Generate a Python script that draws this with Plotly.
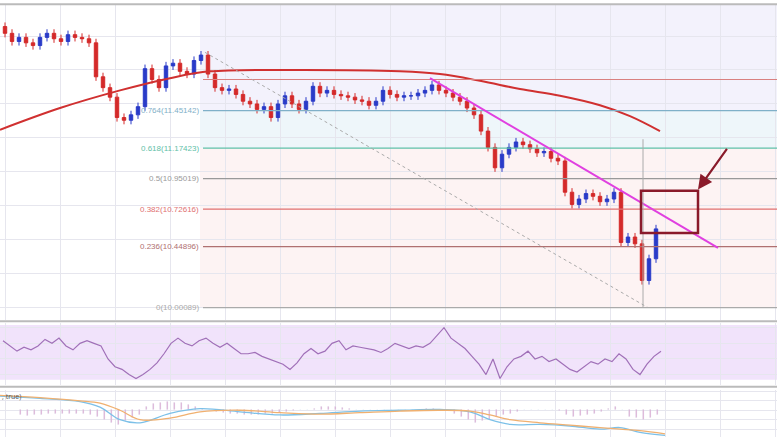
import plotly.graph_objects as go

# candle x positions (pixel-like axis units) and closes
candle_x = [5 + 7*i for i in range(94)]
closes = [12.02,11.96,11.99,11.95,11.93,11.99,12.02,11.98,11.96,12.01,11.99,11.98,11.95,11.70,11.62,11.55,11.40,11.38,11.42,11.48,
          11.76,11.68,11.62,11.78,11.80,11.74,11.72,11.82,11.86,11.72,11.62,11.60,11.61,11.57,11.52,11.50,11.46,11.48,11.40,11.50,
          11.56,11.50,11.46,11.52,11.63,11.58,11.60,11.57,11.56,11.55,11.53,11.52,11.49,11.52,11.60,11.57,11.55,11.56,11.56,11.58,
          11.60,11.64,11.60,11.58,11.55,11.52,11.47,11.42,11.30,11.18,11.03,11.13,11.18,11.22,11.20,11.17,11.14,11.15,11.10,11.08,
          10.85,10.76,10.80,10.84,10.82,10.78,10.80,10.85,10.48,10.52,10.47,10.20,10.36,10.58]
opens = [12.07] + closes[:-1]
highs = [max(o, c) + 0.03 for o, c in zip(opens, closes)]
lows = [min(o, c) - 0.03 for o, c in zip(opens, closes)]

ma_x = [0, 60, 120, 170, 210, 300, 400, 440, 480, 520, 560, 600, 630, 660]
ma_y = [11.31, 11.47, 11.60, 11.69, 11.74, 11.75, 11.74, 11.72, 11.67, 11.61, 11.56, 11.49, 11.41, 11.30]

fib_ratio = ["0.886", "0.764", "0.618", "0.5", "0.382", "0.236", "0"]
fib_price = [11.68, 11.45142, 11.17423, 10.95019, 10.72616, 10.44896, 10.00089]
fib_color = ["#d98080", "#7fb0c8", "#5fc0a8", "#999999", "#e07070", "#b07070", "#aaaaaa"]

rsi = [62,58,54,57,55,58,63,60,64,58,55,60,62,60,58,48,42,40,36,33,36,40,45,52,60,64,60,58,62,64,60,57,60,56,52,52,53,50,48,46,
       44,40,45,52,56,52,54,60,62,55,58,57,56,55,53,56,60,58,56,58,57,60,66,72,64,60,56,50,44,36,48,33,42,48,50,54,48,50,46,48,
       44,40,38,42,46,44,48,46,52,48,40,36,44,50,54]
rsi_x = [3 + 7*i for i in range(len(rsi))]

macd_x = [0, 40, 80, 100, 120, 140, 170, 200, 240, 280, 320, 360, 400, 440, 470, 490, 510, 540, 570, 600, 620, 640, 665]
macd_a = [0.9, 0.75, 0.55, 0.2, -0.6, -0.8, -0.2, 0.1, -0.1, -0.3, -0.2, -0.05, 0.0, 0.05, -0.1, -0.6, -0.9, -0.9, -1.0, -1.2, -1.1, -1.4, -1.6]
macd_b = [0.95, 0.8, 0.6, 0.45, 0.0, -0.6, -0.5, -0.1, 0.0, -0.15, -0.25, -0.15, -0.05, 0.0, -0.05, -0.3, -0.6, -0.8, -0.95, -1.1, -1.2, -1.3, -1.5]
hist_x = [20 + 7*i for i in range(92)]
hist = [-0.3,-0.35,-0.3,-0.3,-0.25,-0.25,-0.2,-0.2,-0.2,-0.25,-0.3,-0.4,-0.6,-0.8,-0.9,-0.7,-0.5,-0.3,0.2,0.4,0.5,0.55,0.5,0.45,0.35,0.2,0.1,0.05,
        -0.1,-0.15,-0.2,-0.25,-0.3,-0.3,-0.3,-0.25,-0.2,-0.15,-0.1,-0.05,0.0,0.05,0.1,0.2,0.25,0.2,0.15,0.1,0.05,0.05,0.05,0.05,0.05,0.05,
        0.05,0.05,0.05,0.05,0.1,0.1,0.05,0.0,-0.2,-0.4,-0.6,-0.8,-0.7,-0.6,-0.4,-0.3,-0.2,-0.1,0.0,0.0,0.0,0.0,0.0,-0.05,
        -0.3,-0.4,-0.35,-0.3,-0.2,-0.1,0.1,0.2,0.05,-0.4,-0.5,-0.6,-0.5,-0.3]

fig = go.Figure()
fig.add_shape(type="rect", xref="x", yref="y", x0=200, x1=777, y0=11.45142, y1=12.3, fillcolor="#f3f2fc", line_width=0, layer="below")
fig.add_shape(type="rect", xref="x", yref="y", x0=200, x1=777, y0=11.17423, y1=11.45142, fillcolor="#eef6fa", line_width=0, layer="below")
fig.add_shape(type="rect", xref="x", yref="y", x0=200, x1=777, y0=10.0, y1=11.17423, fillcolor="#fdf3f3", line_width=0, layer="below")

for r, p, c in zip(fib_ratio, fib_price, fib_color):
    fig.add_shape(type="line", xref="x", yref="y", x0=203, x1=777, y0=p, y1=p, line=dict(color=c, width=1.2))
    if r != "0.886":
        fig.add_annotation(x=201, y=p, xref="x", yref="y", text=f"{r}({p:.5f})", showarrow=False,
                           xanchor="right", font=dict(size=8, color=c, family="Arial"))

fig.add_trace(go.Candlestick(x=candle_x, open=opens, high=highs, low=lows, close=closes,
                             increasing=dict(line=dict(color="#2a3bc8", width=1), fillcolor="#2a3bc8"),
                             decreasing=dict(line=dict(color="#d42a2a", width=1), fillcolor="#d42a2a"),
                             whiskerwidth=0, xaxis="x", yaxis="y", showlegend=False))
fig.add_trace(go.Scatter(x=ma_x, y=ma_y, mode="lines", line=dict(color="#d03030", width=2, shape="spline"), showlegend=False))
fig.add_shape(type="line", xref="x", yref="y", x0=205, y0=11.88, x1=648, y1=10.0, line=dict(color="#aaaaaa", width=1, dash="dot"))
fig.add_shape(type="line", xref="x", yref="y", x0=430, y0=11.69, x1=718, y1=10.44, line=dict(color="#e040e0", width=2))
fig.add_shape(type="line", xref="x", yref="y", x0=643, y0=11.24, x1=643, y1=10.0, line=dict(color="#aaaaaa", width=1))
fig.add_shape(type="rect", xref="x", yref="y", x0=641, x1=698, y0=10.55, y1=10.86, line=dict(color="#8a1a2a", width=2.5))
fig.add_annotation(x=698, y=10.87, ax=728, ay=11.18, xref="x", yref="y", axref="x", ayref="y",
                   showarrow=True, arrowhead=2, arrowsize=1.3, arrowwidth=2.2, arrowcolor="#8a1a2a", text="")

fig.add_shape(type="rect", xref="paper", yref="y2", x0=0, x1=1, y0=32, y1=74, fillcolor="#f1e3fb", line_width=0, layer="below")
fig.add_trace(go.Scatter(x=rsi_x, y=rsi, mode="lines", line=dict(color="#a070b8", width=1.2), xaxis="x", yaxis="y2", showlegend=False))
fig.add_trace(go.Bar(x=hist_x, y=hist, marker_color="#d070b0", width=1.0, xaxis="x", yaxis="y3", showlegend=False))
fig.add_trace(go.Scatter(x=macd_x, y=macd_a, mode="lines", line=dict(color="#7cc0e8", width=1.3, shape="spline"), xaxis="x", yaxis="y3", showlegend=False))
fig.add_trace(go.Scatter(x=macd_x, y=macd_b, mode="lines", line=dict(color="#f0b070", width=1.3, shape="spline"), xaxis="x", yaxis="y3", showlegend=False))
fig.add_annotation(x=0, y=1.0, xref="paper", yref="y3 domain", text=", true)", showarrow=False, xanchor="left", yanchor="top", font=dict(size=7, color="#555"))

for yy in [0.265, 0.115]:
    fig.add_shape(type="line", xref="paper", yref="paper", x0=0, x1=1, y0=yy, y1=yy, line=dict(color="#bbbbbb", width=2))

grid = dict(showgrid=True, gridcolor="#e6e6ee", zeroline=False, showticklabels=False, ticks="", automargin=False)
fig.update_layout(
    width=777, height=437, margin=dict(l=0, r=0, t=0, b=0, pad=0), paper_bgcolor="white", plot_bgcolor="white",
    xaxis=dict(range=[0, 777], domain=[0, 1], rangeslider=dict(visible=False), dtick=55, tick0=5, anchor="y3", **grid),
    yaxis=dict(range=[9.91, 12.23], domain=[0.268, 0.989], dtick=0.25, **grid),
    yaxis2=dict(range=[28, 76], domain=[0.119, 0.262], dtick=12, **grid),
    yaxis3=dict(range=[-1.7, 1.3], domain=[0, 0.108], dtick=0.6, **grid),
    bargap=0,
)
fig.add_shape(type="line", xref="paper", yref="paper", x0=0, x1=1, y0=0.99, y1=0.99, line=dict(color="#bbbbbb", width=2))
fig.write_html("out.html", config={"displayModeBar": False})

with open("out.html", encoding="utf-8") as f:
    html = f.read()
html = html.replace("<body>", '<body style="margin:0;overflow:hidden">', 1)
with open("out.html", "w", encoding="utf-8") as f:
    f.write(html)
